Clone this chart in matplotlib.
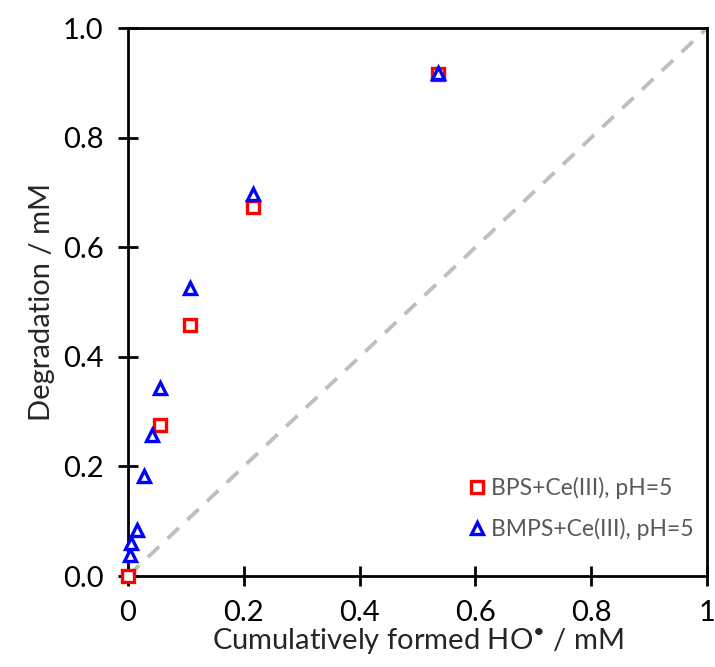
import matplotlib
matplotlib.use("Agg")
import matplotlib.pyplot as plt

bps_x = [0.0, 0.055, 0.107, 0.216, 0.535]
bps_y = [0.0, 0.276, 0.458, 0.673, 0.916]
bmps_x = [0.003, 0.006, 0.015, 0.028, 0.041, 0.055, 0.107, 0.216, 0.535]
bmps_y = [0.038, 0.060, 0.084, 0.182, 0.257, 0.343, 0.526, 0.697, 0.918]
xticks = [0, 0.2, 0.4, 0.6, 0.8, 1]
xticklabels = ["0", "0.2", "0.4", "0.6", "0.8", "1"]
yticks = [0.0, 0.2, 0.4, 0.6, 0.8, 1.0]
yticklabels = ["0.0", "0.2", "0.4", "0.6", "0.8", "1.0"]

plt.rcParams['font.family'] = ['Lato', 'DejaVu Sans']
plt.rcParams['mathtext.fontset'] = 'custom'
plt.rcParams['mathtext.rm'] = 'Lato'
plt.rcParams['mathtext.default'] = 'regular'

fig = plt.figure(figsize=(7.15, 6.67), dpi=100)
ax = fig.add_axes([0.179, 0.1364, 0.810, 0.8216])

ax.plot([0, 1], [0, 1], color='#bfbfbf', lw=2.8, ls=(0, (4, 3)), zorder=1)
ax.plot(bps_x, bps_y, ls='none', marker='s', ms=8.5, mfc='white', mec='#ff0000',
        mew=2.4, label='BPS+Ce(III), pH=5', zorder=3, clip_on=False)
ax.plot(bmps_x, bmps_y, ls='none', marker='^', ms=8.5, mfc='white', mec='#0000ff',
        mew=2.4, label='BMPS+Ce(III), pH=5', zorder=4, clip_on=False)

ax.set_xlim(0, 1)
ax.set_ylim(0, 1)
ax.set_xticks(xticks)
ax.set_xticklabels(xticklabels)
ax.set_yticks(yticks)
ax.set_yticklabels(yticklabels)
ax.tick_params(direction='inout', length=15, width=2, labelsize=21, pad=10, colors='black')
for s in ax.spines.values():
    s.set_linewidth(2)
    s.set_color('black')

ax.set_xlabel('Cumulatively formed HO$^{\u2022}$ / mM', fontsize=21, color='#262626', labelpad=0)
ax.set_ylabel('Degradation / mM', fontsize=21, color='#262626', labelpad=6)

leg = ax.legend(loc='lower right', bbox_to_anchor=(1.0, 0.04), frameon=False, fontsize=16.5,
                handletextpad=0.05, handlelength=1.1, labelspacing=0.85, borderaxespad=0.2)
for t in leg.get_texts():
    t.set_color('#595959')

fig.savefig('out.png', dpi=100)
